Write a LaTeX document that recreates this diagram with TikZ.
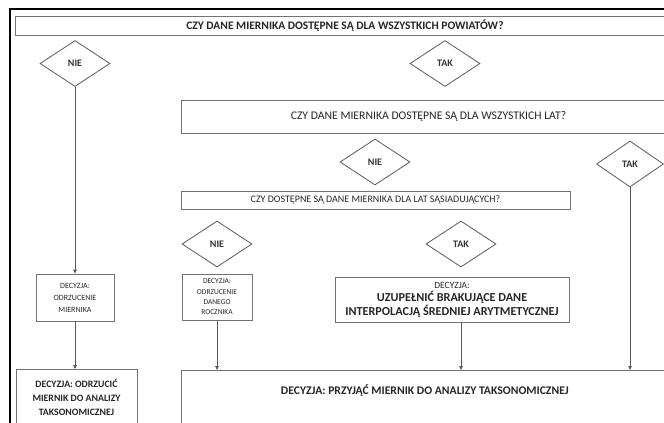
\documentclass[tikz,border=0pt]{standalone}
\usepackage{fontspec}
\setmainfont{Carlito}
\usetikzlibrary{shapes.geometric,arrows.meta}
\begin{document}
\begin{tikzpicture}[x=1pt, y=-1pt,
    box/.style={draw=black!55, line width=0.8pt, rectangle, inner sep=0pt, align=center, text=black!85},
    choice/.style={draw=black!65, line width=0.8pt, diamond, minimum width=70pt, minimum height=46pt, inner sep=0pt, text=black!80, font=\bfseries\fontsize{10}{11}\selectfont},
    link/.style={draw=black!65, line width=0.8pt, -{Triangle[length=4pt,width=3.5pt]}}]
    \clip (0,0) rectangle (664,423);
    \draw[line width=2pt] (10,8.5) rectangle (700,500);

    \node[box, minimum width=660pt, minimum height=19pt, font=\bfseries\fontsize{11.5}{12}\selectfont] (q1) at (345,25.5) {CZY DANE MIERNIKA DOSTĘPNE SĄ DLA WSZYSTKICH POWIATÓW?};
    \node[choice] (n1) at (75,63.5) {NIE};
    \node[choice] (t1) at (445,63.5) {TAK};

    \node[box, minimum width=495pt, minimum height=33pt, font=\fontsize{11.7}{12}\selectfont] (q2) at (428.5,116.5) {CZY DANE MIERNIKA DOSTĘPNE SĄ DLA WSZYSTKICH LAT?};
    \node[choice] (n2) at (375,162) {NIE};
    \node[choice, minimum width=67pt] (t2) at (630,164) {TAK};

    \node[box, minimum width=389pt, minimum height=18pt, font=\fontsize{10}{11}\selectfont] (q3) at (375.5,200) {CZY DOSTĘPNE SĄ DANE MIERNIKA DLA LAT SĄSIADUJĄCYCH?};
    \node[choice] (n3) at (217,244) {NIE};
    \node[choice] (t3) at (461,244) {TAK};

    \node[box, minimum width=78pt, minimum height=47pt, font=\fontsize{8}{12}\selectfont] (d1) at (75,297.5) {DECYZJA:\\ODRZUCENIE\\MIERNIKA};
    \node[box, minimum width=70pt, minimum height=46pt, font=\fontsize{7.5}{10.3}\selectfont] (d2) at (217,297) {DECYZJA:\\ODRZUCENIE\\DANEGO\\ROCZNIKA};
    \node[box, minimum width=234pt, minimum height=45pt, font=\bfseries\fontsize{12.2}{13.5}\selectfont] (d3) at (452,299.5) {{\mdseries\fontsize{9.5}{13.5}\selectfont DECYZJA:}\\UZUPEŁNIĆ BRAKUJĄCE DANE\\INTERPOLACJĄ ŚREDNIEJ ARYTMETYCZNEJ};

    \node[box, minimum width=121pt, minimum height=55pt, font=\bfseries\fontsize{9.8}{14}\selectfont] (d4) at (76.5,397) {DECYZJA: ODRZUCIĆ\\MIERNIK DO ANALIZY\\TAKSONOMICZNEJ};
    \node[box, anchor=north west, minimum width=487pt, inner ysep=17pt, text height=7pt, text depth=30pt, font=\bfseries\fontsize{11.7}{12}\selectfont] (d5) at (181,370) {DECYZJA: PRZYJĄĆ MIERNIK DO ANALIZY TAKSONOMICZNEJ};

    \draw[link] (n1) -- (d1);
    \draw[link] (d1) -- (d1.south |- d4.north);
    \draw[link] (d2) -- (d2.south |- d5.north);
    \draw[link] (t3.south |- d3.south) -- (t3.south |- d5.north);
    \draw[link] (t2) -- (t2.south |- d5.north);
\end{tikzpicture}
\end{document}
